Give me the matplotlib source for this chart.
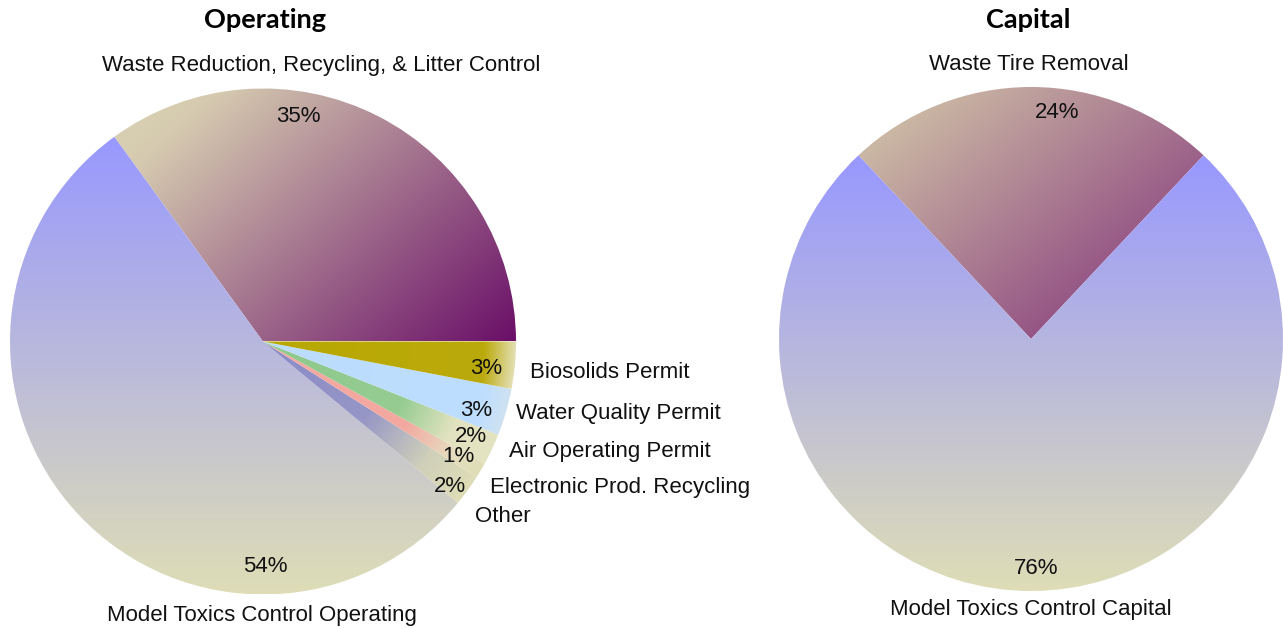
import numpy as np
import matplotlib
matplotlib.use("Agg")
import matplotlib.pyplot as plt
from matplotlib.colors import LinearSegmentedColormap

# ---- data ----
op_labels = ["Waste Reduction, Recycling, & Litter Control", "Model Toxics Control Operating",
             "Other", "Electronic Prod. Recycling", "Air Operating Permit",
             "Water Quality Permit", "Biosolids Permit"]
op_values = [35, 54, 2, 1, 2, 3, 3]

cap_labels = ["Waste Tire Removal", "Model Toxics Control Capital"]
cap_values = [24, 76]

W, H = 1283, 629
fig = plt.figure(figsize=(W / 100, H / 100), dpi=100)
ax = fig.add_axes([0, 0, 1, 1])
ax.set_xlim(0, W)
ax.set_ylim(0, H)
ax.set_aspect("equal")
ax.axis("off")

LABEL_FONT = "Liberation Sans"
TITLE_FONT = "Lato"
BEIGE = "#DEDDB6"


def Y(y):
    return H - y


def fill_gradient(wedge, stops, mode, center=None, radius=None, direction=(1, -1)):
    ext = wedge.get_path().get_extents()
    x0, y0, x1, y1 = ext.x0, ext.y0, ext.x1, ext.y1
    nx, ny = 300, 300
    xs = np.linspace(x0, x1, nx)
    ys = np.linspace(y0, y1, ny)
    X, Yg = np.meshgrid(xs, ys)
    if mode == "linear":
        dx, dy = direction
        proj = X * dx + Yg * dy
        corners = [x0 * dx + y0 * dy, x1 * dx + y0 * dy, x0 * dx + y1 * dy, x1 * dx + y1 * dy]
        t = (proj - min(corners)) / (max(corners) - min(corners))
    else:
        r = np.hypot(X - center[0], Yg - center[1]) / radius
        t = np.clip(r, 0, 1)
    cmap = LinearSegmentedColormap.from_list("g", stops)
    img = cmap(t)
    im = ax.imshow(img, extent=(x0, x1, y0, y1), origin="lower",
                   interpolation="bilinear", zorder=1)
    im.set_clip_path(wedge)


# ---- Operating pie ----
op_center = (263, Y(341.5))
op_radius = 253
wedges, _ = ax.pie(op_values, startangle=0, counterclock=True, center=op_center,
                   radius=op_radius, frame=True,
                   wedgeprops=dict(facecolor="none", edgecolor="none"))
ax.set_xlim(0, W)
ax.set_ylim(0, H)
ax.axis("off")

op_fills = [
    ("linear", [(0, "#DAD3B3"), (0.15, "#D6CBB0"), (1, "#6A0F68")], (1, -1.1)),
    ("linear", [(0, "#9898FF"), (1, BEIGE)], (0, -1)),
    ("radial", [(0, "#8A8AC8"), (0.5, "#9696C6"), (0.8, "#D0D0BA"), (1, BEIGE)], None),
    ("radial", [(0, "#F3A8A0"), (0.65, "#F3A8A0"), (0.87, "#E6DDC0"), (1, BEIGE)], None),
    ("radial", [(0, "#8CC88C"), (0.6, "#96CC92"), (0.83, "#E3E3C0"), (1, "#E3E2C2")], None),
    ("radial", [(0, "#BCDCFC"), (0.9, "#BEDEFF"), (1, "#CFE2F2")], None),
    ("radial", [(0, "#B8A800"), (0.88, "#BBAA0C"), (1, "#E2DEB0")], None),
]
for w, (mode, stops, d) in zip(wedges, op_fills):
    if mode == "linear":
        fill_gradient(w, stops, "linear", direction=d)
    else:
        fill_gradient(w, stops, "radial", center=op_center, radius=op_radius)

# ---- Capital pie ----
cap_center = (1031, Y(339))
cap_radius = 252
start = 90 - cap_values[0] / 100 * 360 / 2
cwedges, _ = ax.pie(cap_values, startangle=start, counterclock=True, center=cap_center,
                    radius=cap_radius, frame=True,
                    wedgeprops=dict(facecolor="none", edgecolor="none"))
ax.set_xlim(0, W)
ax.set_ylim(0, H)
ax.axis("off")

fill_gradient(cwedges[0], [(0, "#D6CCAA"), (1, "#7E2A78")], "linear", direction=(1, -1.2))
fill_gradient(cwedges[1], [(0, "#9898FF"), (1, BEIGE)], "linear", direction=(0, -1))

# ---- text ----
fs = 16
ax.text(265, Y(20), "Operating", family=TITLE_FONT, weight="bold", fontsize=19.5,
        ha="center", va="center", zorder=5)
ax.text(1028, Y(20), "Capital", family=TITLE_FONT, weight="bold", fontsize=19.5,
        ha="center", va="center", zorder=5)

op_pct_pos = [(298, 117), (265, 567), (450, 486), (458, 457), (471, 437), (476, 410), (486, 369)]
op_lab_pos = [(321, 66, "center"), (262, 616, "center"), (475, 516, "left"),
              (490, 487, "left"), (509, 451, "left"), (516, 414, "left"), (530, 372, "left")]
for v, (px, py), lab, (lx, ly, ha) in zip(op_values, op_pct_pos, op_labels, op_lab_pos):
    ax.text(px, Y(py), f"{v}%", family=LABEL_FONT, fontsize=fs, ha="center", va="center",
            color="#111111", zorder=5)
    ax.text(lx, Y(ly), lab, family=LABEL_FONT, fontsize=fs, ha=ha, va="center",
            color="#111111", zorder=5)

cap_pct_pos = [(1057, 112), (1036, 568)]
cap_lab_pos = [(1029, 64), (1031, 610)]
for v, (px, py), lab, (lx, ly) in zip(cap_values, cap_pct_pos, cap_labels, cap_lab_pos):
    ax.text(px, Y(py), f"{v}%", family=LABEL_FONT, fontsize=fs, ha="center", va="center",
            color="#111111", zorder=5)
    ax.text(lx, Y(ly), lab, family=LABEL_FONT, fontsize=fs, ha="center", va="center",
            color="#111111", zorder=5)

fig.savefig("out.png", dpi=100)
